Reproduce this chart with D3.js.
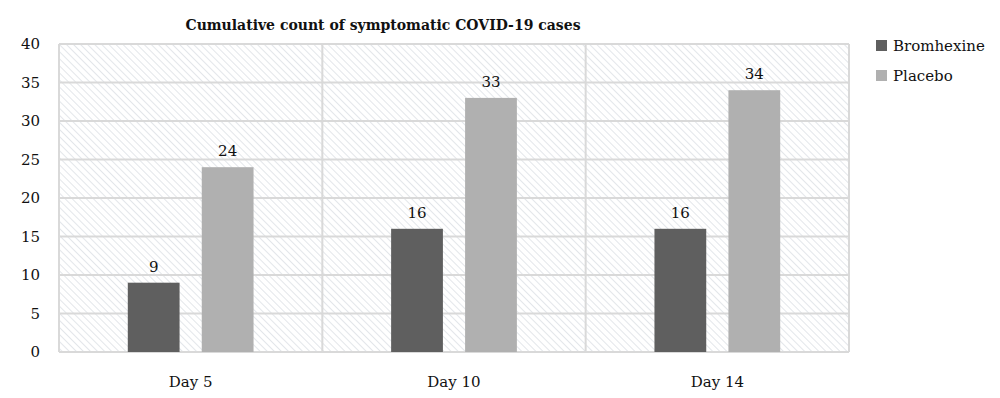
<!DOCTYPE html>
<html lang="en">
<head>
<meta charset="utf-8">
<script src="https://d3js.org/d3.v7.min.js"></script>
<style>
  body { margin: 0; background: #fff; }
  text { font-family: "DejaVu Serif", serif; fill: #111; }
</style>
</head>
<body>
<svg id="chart" width="1000" height="398"></svg>
<script>
var days = ["Day 5", "Day 10", "Day 14"];
var seriesNames = ["Bromhexine", "Placebo"];
var bromhexine = [9, 16, 16];
var placebo = [24, 33, 34];
var yTicks = [0, 5, 10, 15, 20, 25, 30, 35, 40];
var colors = ["#5f5f5f", "#b0b0b0"];

var svg = d3.select("#chart");
var plotLeft = 59, plotRight = 849, plotTop = 44, plotBottom = 352;

// hatch fill for plot background
var defs = svg.append("defs");
var pat = defs.append("pattern")
    .attr("id", "hatch")
    .attr("patternUnits", "userSpaceOnUse")
    .attr("width", 5).attr("height", 5)
    .attr("patternTransform", "rotate(-45)");
pat.append("rect").attr("width", 5).attr("height", 5).attr("fill", "#fff");
pat.append("line")
    .attr("x1", 0).attr("y1", 0).attr("x2", 0).attr("y2", 5)
    .attr("stroke", "#e0e4e8").attr("stroke-width", 1.8);

var x = d3.scaleBand().domain(days).range([plotLeft, plotRight]);
var xs = d3.scaleBand().domain(seriesNames).range([0, x.bandwidth()]).paddingInner(0.3).paddingOuter(0.93);
var y = d3.scaleLinear().domain([0, 40]).range([plotBottom, plotTop]);

svg.append("rect")
    .attr("x", plotLeft).attr("y", plotTop)
    .attr("width", plotRight - plotLeft).attr("height", plotBottom - plotTop)
    .attr("fill", "url(#hatch)");

// horizontal grid
svg.append("g").selectAll("line").data(yTicks).enter().append("line")
    .attr("x1", plotLeft).attr("x2", plotRight)
    .attr("y1", function (d) { return y(d); }).attr("y2", function (d) { return y(d); })
    .attr("stroke", "#d9d9d9").attr("stroke-width", 2);

// vertical category separators
var seps = [plotLeft].concat(days.map(function (d) { return x(d) + x.bandwidth(); }));
svg.append("g").selectAll("line").data(seps).enter().append("line")
    .attr("x1", function (d) { return d; }).attr("x2", function (d) { return d; })
    .attr("y1", plotTop).attr("y2", plotBottom)
    .attr("stroke", "#d9d9d9").attr("stroke-width", 2);

// y axis labels
var yAxis = d3.axisLeft(y).tickValues(yTicks).tickSize(0).tickPadding(19);
var ya = svg.append("g").attr("transform", "translate(" + plotLeft + ",0)").call(yAxis);
ya.select(".domain").remove();
ya.selectAll("text").style("font-family", "\"DejaVu Serif\", serif").style("font-size", "15px").attr("fill", "#111");

// x axis labels
var xAxis = d3.axisBottom(x).tickSize(0).tickPadding(24);
var xa = svg.append("g").attr("transform", "translate(0," + plotBottom + ")").call(xAxis);
xa.select(".domain").remove();
xa.selectAll("text").style("font-family", "\"DejaVu Serif\", serif").style("font-size", "15px").attr("fill", "#111");

// bars
var data = [];
days.forEach(function (d, i) {
  data.push({ day: d, s: seriesNames[0], v: bromhexine[i], c: colors[0] });
  data.push({ day: d, s: seriesNames[1], v: placebo[i], c: colors[1] });
});

var g = svg.append("g");
g.selectAll("rect").data(data).enter().append("rect")
    .attr("x", function (d) { return x(d.day) + xs(d.s); })
    .attr("width", xs.bandwidth())
    .attr("y", function (d) { return y(d.v); })
    .attr("height", function (d) { return y(0) - y(d.v); })
    .attr("fill", function (d) { return d.c; });

g.selectAll("text").data(data).enter().append("text")
    .attr("x", function (d) { return x(d.day) + xs(d.s) + xs.bandwidth() / 2; })
    .attr("y", function (d) { return y(d.v) - 11; })
    .attr("text-anchor", "middle")
    .style("font-size", "15px")
    .text(function (d) { return d.v; });

// title
svg.append("text")
    .attr("x", 383).attr("y", 30)
    .attr("text-anchor", "middle")
    .style("font-size", "14px").style("font-weight", "bold")
    .text("Cumulative count of symptomatic COVID-19 cases");

// legend
var leg = svg.append("g").attr("transform", "translate(876,40)");
seriesNames.forEach(function (s, i) {
  var row = leg.append("g").attr("transform", "translate(0," + i * 30 + ")");
  row.append("rect").attr("width", 11).attr("height", 11).attr("fill", colors[i]);
  row.append("text").attr("x", 17).attr("y", 11).style("font-size", "15px").text(s);
});
</script>
</body>
</html>
